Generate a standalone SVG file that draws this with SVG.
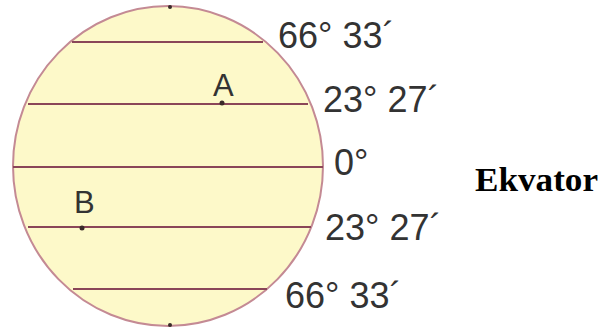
<svg xmlns="http://www.w3.org/2000/svg" width="603" height="329" viewBox="0 0 603 329">
<style>
.lat{stroke:#8a4658;stroke-width:2;fill:none}
.lbl{font-family:"Liberation Sans",Arial,sans-serif;font-size:36px;fill:#333}
.pt{font-family:"Liberation Sans",Arial,sans-serif;font-size:31px;fill:#333}
.dot{fill:#3a2a2a}
</style>
<rect width="603" height="329" fill="#ffffff"/>
<g id="globe">
<ellipse cx="168" cy="166" rx="155" ry="160" fill="#fdf9c9" stroke="#c48a94" stroke-width="2"/>
<circle class="dot" cx="170" cy="7" r="2"/>
<circle class="dot" cx="170" cy="325" r="2"/>
</g>
<g id="latitudes">
<line class="lat" x1="72" y1="42" x2="263" y2="42"/>
<line class="lat" x1="28" y1="104" x2="308" y2="104"/>
<line class="lat" x1="13" y1="167" x2="323" y2="167"/>
<line class="lat" x1="28" y1="227" x2="311" y2="227"/>
<line class="lat" x1="73" y1="289" x2="267" y2="289"/>
</g>
<g id="pointA">
<circle class="dot" cx="222" cy="103" r="2.5"/>
<text class="pt" x="213" y="96">A</text>
</g>
<g id="pointB">
<circle class="dot" cx="82" cy="228" r="2.5"/>
<text class="pt" x="74" y="213">B</text>
</g>
<g id="labels">
<text class="lbl" x="278" y="48">66° 33´</text>
<text class="lbl" x="323" y="112">23° 27´</text>
<text class="lbl" x="334" y="175">0°</text>
<text class="lbl" x="325" y="240">23° 27´</text>
<text class="lbl" x="285" y="308">66° 33´</text>
</g>
<g id="ekvator">
<text x="475" y="191" font-family="'Liberation Serif','Times New Roman',serif" font-weight="bold" font-size="33" fill="#000" textLength="123" lengthAdjust="spacingAndGlyphs">Ekvator</text>
</g>
</svg>
